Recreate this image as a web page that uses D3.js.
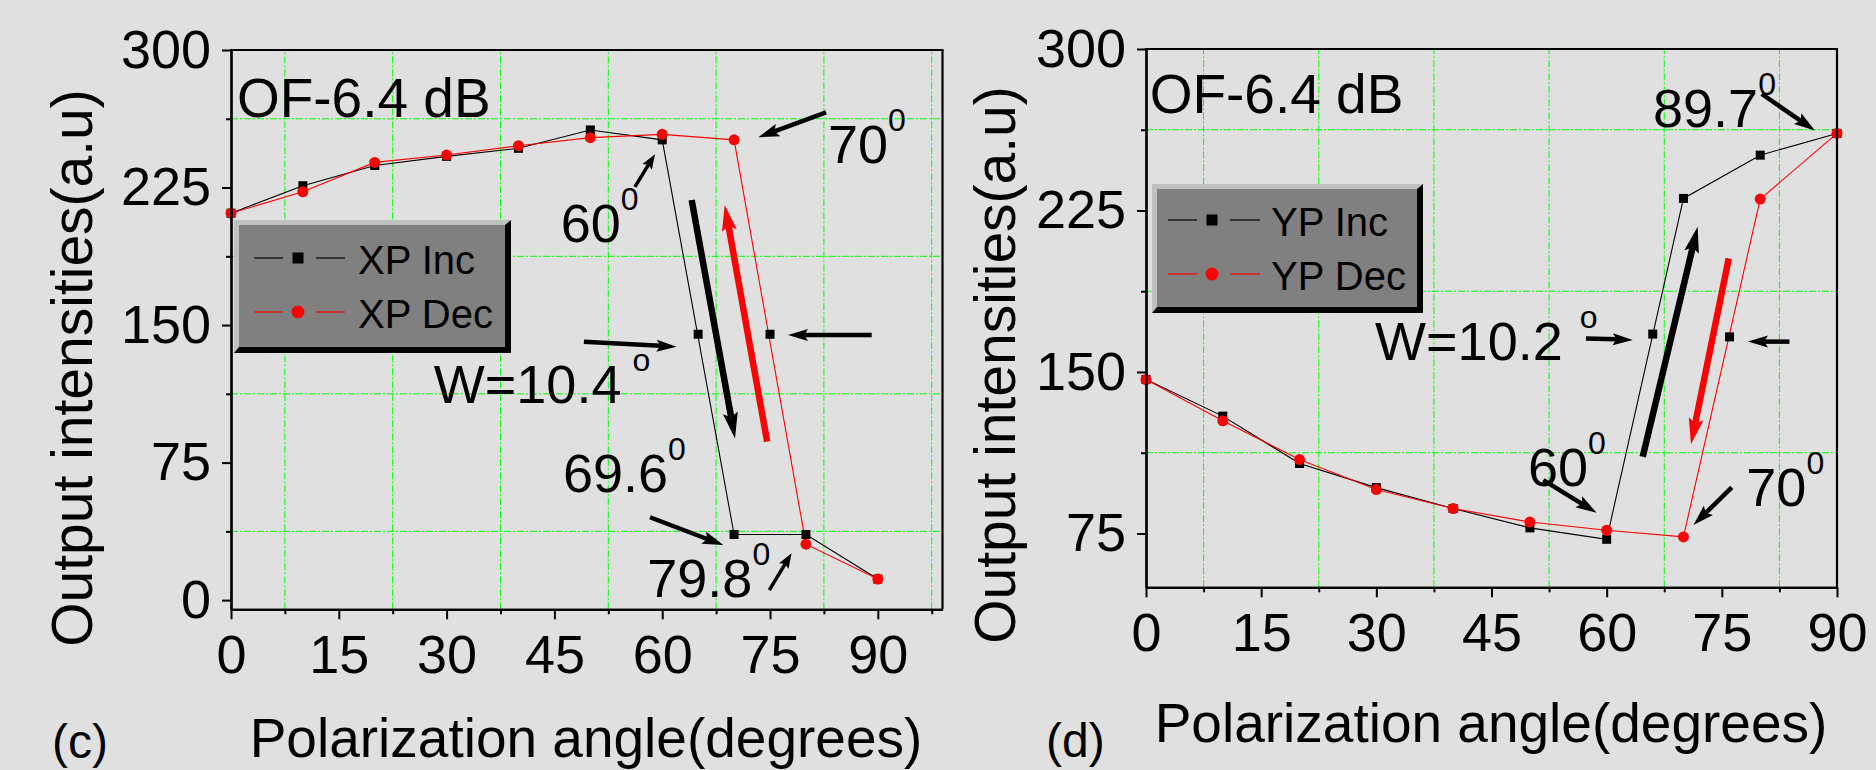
<!DOCTYPE html>
<html><head><meta charset="utf-8">
<script src="https://cdn.jsdelivr.net/npm/d3@7"></script>
<style>
body{margin:0;background:#e0e0e0;}
svg{display:block;}
text{font-family:"Liberation Sans",Arial,Helvetica,sans-serif;fill:#000;}
</style>
</head><body>
<svg id="chart" width="1876" height="770"></svg>
<script>
// ---------- data ----------
const angles = [0,10,20,30,40,50,60,70,80,90];
const xpInc = [211,226,237,242,246.4,256.4,251,35.8,35.8,11.5];
const xpDec = [211,222.7,238.7,242.7,247.8,252.2,254,251,30.5,11.5];
const xpMidAngles = [65,75];
const xpMidValues = [145,145];

const ypInc = [146.5,129.5,107.5,96.3,86.6,77.6,72.3,230.6,250.7,260.8];
const ypDec = [146.5,127.3,109.3,95.4,86.6,80.3,76.5,73.4,230.3,260.8];
const ypMidAngles = [66,76];
const ypMidValues = [167.6,166.3];

const xTicks = [0,15,30,45,60,75,90];
const xMinorL = [7.5,22.5,37.5,52.5,67.5,82.5,97.5];
const xMinorR = [7.5,22.5,37.5,52.5,67.5,82.5];
const yTicksL = [0,75,150,225,300];
const yTicksR = [75,150,225,300];
const yMinorL = [37.5,112.5,187.5,262.5];
const yMinorR = [112.5,187.5,262.5];

const legendL = ["XP Inc","XP Dec"];
const legendR = ["YP Inc","YP Dec"];
const panelLabels = ["(c)","(d)"];
const xTitle = "Polarization angle(degrees)";
const yTitle = "Output intensities(a.u)";
const titleText = "OF-6.4 dB";

// annotations (data units)
const notesL = [
  {x:46.15,y:195.4,t:"60",s:"0"},
  {x:83.35,y:238.2,t:"70",s:"0"},
  {x:28.5,y:107.3,t:"W=10.4",s:"o",dx:11},
  {x:46.47,y:59.1,t:"69.6",s:"0"},
  {x:58.2,y:1.85,t:"79.8",s:"0"}
];
const notesR = [
  {x:66.3,y:263.9,t:"89.7",s:"0"},
  {x:30.1,y:155.6,t:"W=10.2",s:"o",dx:17},
  {x:50.0,y:97.0,t:"60",s:"0"},
  {x:78.45,y:87.8,t:"70",s:"0"}
];
const arrowsL = [
  {x1:56.2,y1:225.4,x2:59.0,y2:243.2,k:"s"},
  {x1:82.8,y1:266,x2:73.37,y2:252.4,k:"m"},
  {x1:64.1,y1:218.2,x2:70.13,y2:88.2,k:"t"},
  {x1:74.6,y1:86.4,x2:68.7,y2:215.5,k:"t",c:"#ff0000"},
  {x1:49.1,y1:140.9,x2:62.0,y2:138.2,k:"h"},
  {x1:89.15,y1:144.6,x2:77.5,y2:144.6,k:"h"},
  {x1:58.3,y1:45.2,x2:68.5,y2:30.0,k:"m"},
  {x1:74.9,y1:5.5,x2:78.0,y2:25.5,k:"s"}
];
const arrowsR = [
  {x1:80.2,y1:279.1,x2:87.13,y2:262.1,k:"m"},
  {x1:57.3,y1:165.6,x2:63.4,y2:164.9,k:"h"},
  {x1:83.8,y1:164.1,x2:78.4,y2:164.1,k:"h"},
  {x1:64.7,y1:110.65,x2:71.85,y2:217.5,k:"t"},
  {x1:75.9,y1:202.8,x2:70.98,y2:116.4,k:"t",c:"#ff0000"},
  {x1:51.75,y1:99.8,x2:58.7,y2:84.6,k:"m"},
  {x1:76.3,y1:96.4,x2:71.3,y2:78.9,k:"m"}
];

// ---------- drawing ----------
const svg = d3.select("#chart");
svg.append("rect").attr("width",1876).attr("height",770).attr("fill","#e0e0e0");

const arrowStyles = {
  s:{w:3.5,hl:15,hw:11},
  m:{w:4.5,hl:21,hw:13},
  h:{w:4.5,hl:20,hw:12},
  t:{w:6.5,hl:26,hw:15}
};

function drawArrow(g, x1,y1,x2,y2, st, color){
  const dx=x2-x1, dy=y2-y1, L=Math.hypot(dx,dy), ux=dx/L, uy=dy/L, px=-uy, py=ux;
  const bx=x2-ux*st.hl, by=y2-uy*st.hl;
  const nx=bx+ux*st.hl*0.18, ny=by+uy*st.hl*0.18;
  g.append("line").attr("x1",x1).attr("y1",y1).attr("x2",nx).attr("y2",ny)
    .attr("stroke",color).attr("stroke-width",st.w);
  g.append("path").attr("d",`M${x2},${y2}L${bx+px*st.hw/2},${by+py*st.hw/2}L${nx},${ny}L${bx-px*st.hw/2},${by-py*st.hw/2}Z`)
    .attr("fill",color);
}

function panel(cfg){
  const g = svg.append("g");
  const x = d3.scaleLinear().domain(cfg.xDomain).range(cfg.xRange);
  const y = d3.scaleLinear().domain(cfg.yDomain).range(cfg.yRange);
  const [L,R] = cfg.xRange, [B,T] = cfg.yRange;

  // grid
  const grid = g.append("g").attr("stroke","#00ff00").attr("stroke-width",1).attr("stroke-dasharray","7,2,2,2");
  cfg.xMinor.forEach(v=>grid.append("line").attr("x1",x(v)).attr("x2",x(v)).attr("y1",B).attr("y2",T));
  cfg.yMinor.forEach(v=>grid.append("line").attr("y1",y(v)).attr("y2",y(v)).attr("x1",L).attr("x2",R));

  // legend box
  const lg = g.append("g").attr("transform",`translate(${cfg.leg.x},${cfg.leg.y})`);
  const W=cfg.leg.w, H=cfg.leg.h, b=5, bb=6;
  lg.append("path").attr("d",`M0,0H${W}L${W-bb},${b}H${b}V${H-bb}L0,${H}Z`).attr("fill","#c0c0c0");
  lg.append("path").attr("d",`M${W},0V${H}H0L${b},${H-bb}H${W-bb}V${b}Z`).attr("fill","#000");
  lg.append("rect").attr("x",b).attr("y",b).attr("width",W-b-bb).attr("height",H-b-bb).attr("fill","#808080");
  const e = cfg.leg.e;
  cfg.legend.forEach((name,i)=>{
    const cy = e.r0 + i*e.dr, col = i===0?"#000":"#ff0000";
    lg.append("line").attr("x1",e.l1a).attr("x2",e.l1b).attr("y1",cy).attr("y2",cy).attr("stroke",col).attr("stroke-width",1.2);
    lg.append("line").attr("x1",e.l2a).attr("x2",e.l2b).attr("y1",cy).attr("y2",cy).attr("stroke",col).attr("stroke-width",1.2);
    if(i===0) lg.append("rect").attr("x",e.m-5.5).attr("y",cy-5.5).attr("width",11).attr("height",11).attr("fill","#000");
    else lg.append("circle").attr("cx",e.m).attr("cy",cy).attr("r",6.5).attr("fill","#ff0000");
    lg.append("text").attr("x",e.t).attr("y",cy+16).attr("font-size",40).text(name);
  });

  // data lines
  const line = d3.line().x(d=>x(d[0])).y(d=>y(d[1]));
  const inc = cfg.angles.map((a,i)=>[a,cfg.inc[i]]);
  const dec = cfg.angles.map((a,i)=>[a,cfg.dec[i]]);
  g.append("path").attr("d",line(inc)).attr("fill","none").attr("stroke","#000").attr("stroke-width",1.1);
  g.append("path").attr("d",line(dec)).attr("fill","none").attr("stroke","#ff0000").attr("stroke-width",1.1);
  g.selectAll(null).data(inc).enter().append("rect")
    .attr("x",d=>x(d[0])-4.5).attr("y",d=>y(d[1])-4.5).attr("width",9).attr("height",9).attr("fill","#000");
  g.selectAll(null).data(dec).enter().append("circle")
    .attr("cx",d=>x(d[0])).attr("cy",d=>y(d[1])).attr("r",5.5).attr("fill","#ff0000");
  const mid = cfg.midA.map((a,i)=>[a,cfg.midV[i]]);
  g.selectAll(null).data(mid).enter().append("rect")
    .attr("x",d=>x(d[0])-4.5).attr("y",d=>y(d[1])-4.5).attr("width",9).attr("height",9).attr("fill","#000");

  // axes
  const ax = g.append("g").attr("transform",`translate(0,${B})`)
    .call(d3.axisBottom(x).tickValues(xTicks).tickSize(10).tickSizeOuter(0).tickPadding(15).tickFormat(d3.format("d")));
  const axm = g.append("g").attr("transform",`translate(0,${B})`)
    .call(d3.axisBottom(x).tickValues(cfg.xMinor.filter(v=>v<=cfg.xDomain[1])).tickSize(5).tickSizeOuter(0).tickFormat(""));
  const ay = g.append("g").attr("transform",`translate(${L},0)`)
    .call(d3.axisLeft(y).tickValues(cfg.yTicks).tickSize(9).tickSizeOuter(0).tickPadding(11).tickFormat(d3.format("d")));
  const aym = g.append("g").attr("transform",`translate(${L},0)`)
    .call(d3.axisLeft(y).tickValues(cfg.yMinor).tickSize(5).tickSizeOuter(0).tickFormat(""));
  [ax,axm,ay,aym].forEach(a=>{
    a.selectAll(".domain").attr("stroke","#000").attr("stroke-width",2.2);
    a.selectAll(".tick line").attr("stroke","#000").attr("stroke-width",2);
    a.selectAll("text").attr("font-size",54).attr("font-family","Liberation Sans, Arial, sans-serif").attr("fill","#000");
  });
  g.append("line").attr("x1",L-1).attr("x2",R+1).attr("y1",T).attr("y2",T).attr("stroke","#000").attr("stroke-width",2.2);
  g.append("line").attr("x1",R).attr("x2",R).attr("y1",T).attr("y2",B).attr("stroke","#000").attr("stroke-width",2.2);

  // titles
  g.append("text").attr("transform",`translate(${cfg.yt.x},${cfg.yt.y}) rotate(-90)`)
    .attr("text-anchor","middle").attr("font-size",57).text(yTitle);
  g.append("text").attr("x",cfg.xt.x).attr("y",cfg.xt.y).attr("text-anchor","middle").attr("font-size",55).text(xTitle);
  g.append("text").attr("x",cfg.pl.x).attr("y",cfg.pl.y).attr("font-size",48).text(cfg.label);
  g.append("text").attr("x",x(cfg.of[0])-2).attr("y",y(cfg.of[1])).attr("font-size",55).text(titleText);

  // annotations
  cfg.notes.forEach(n=>{
    const t = g.append("text").attr("x",x(n.x)-2).attr("y",y(n.y)).attr("font-size",54);
    t.append("tspan").text(n.t);
    t.append("tspan").attr("font-size",32).attr("dy",-32).attr("dx",n.dx||0).text(n.s);
  });
  cfg.arrows.forEach(a=>drawArrow(g,x(a.x1),y(a.y1),x(a.x2),y(a.y2),arrowStyles[a.k],a.c||"#000"));
}

panel({
  xDomain:[0,99], xRange:[231,942.5], yDomain:[-5,300], yRange:[609.3,50],
  xMinor:xMinorL, yMinor:yMinorL, yTicks:yTicksL,
  angles:angles, inc:xpInc, dec:xpDec, midA:xpMidAngles, midV:xpMidValues,
  legend:legendL,
  leg:{x:234,y:220,w:277,h:133,e:{r0:38,dr:54,l1a:20,l1b:49,m:64,l2a:82,l2b:111,t:124}},
  yt:{x:92,y:368}, xt:{x:586,y:757}, pl:{x:52,y:758}, label:panelLabels[0],
  of:[1.1,263.6], notes:notesL, arrows:arrowsL
});
panel({
  xDomain:[0,90], xRange:[1146,1837], yDomain:[50,300], yRange:[587.3,49],
  xMinor:xMinorR, yMinor:yMinorR, yTicks:yTicksR,
  angles:angles, inc:ypInc, dec:ypDec, midA:ypMidAngles, midV:ypMidValues,
  legend:legendR,
  leg:{x:1152,y:184,w:271,h:129,e:{r0:36,dr:54,l1a:16,l1b:45,m:60,l2a:78,l2b:108,t:119}},
  yt:{x:1015,y:365}, xt:{x:1491,y:742}, pl:{x:1046,y:757}, label:panelLabels[1],
  of:[0.74,270.1], notes:notesR, arrows:arrowsR
});
</script>
</body></html>
